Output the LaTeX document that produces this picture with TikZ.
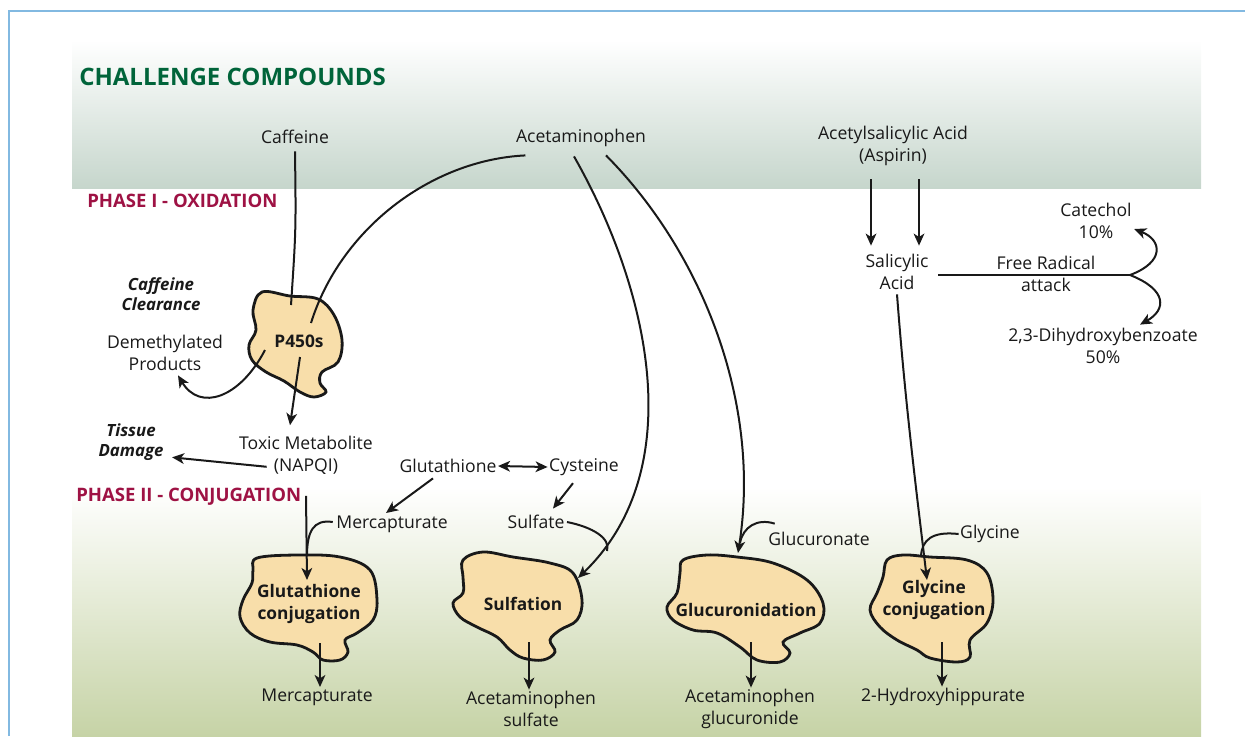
\documentclass[tikz,border=0pt]{standalone}
\usepackage{fontspec}
\setmainfont{Open Sans}
\usetikzlibrary{arrows.meta, calc}
\definecolor{frameblue}{RGB}{130,185,225}
\definecolor{topband}{RGB}{198,214,204}
\definecolor{lowband}{RGB}{198,211,166}
\definecolor{titlegreen}{RGB}{0,100,58}
\definecolor{phasered}{RGB}{158,18,68}
\definecolor{blobfill}{RGB}{248,222,170}
\definecolor{inkblack}{RGB}{25,25,25}

\begin{document}
\begin{tikzpicture}[x=0.75pt, y=-0.75pt,
  lbl/.style={align=center, font=\fontsize{13.2}{16.5}\selectfont, text=inkblack, inner sep=1pt},
  enz/.style={align=center, font=\fontsize{13}{16.5}\selectfont\bfseries, text=inkblack, inner sep=1pt},
  note/.style={align=center, font=\fontsize{12.6}{15.5}\selectfont\bfseries\itshape, text=inkblack, inner sep=1pt},
  phase/.style={anchor=west, font=\fontsize{13.9}{16}\selectfont\bfseries, text=phasered, inner sep=0pt},
  blob/.style={draw=inkblack, line width=2.1pt, fill=blobfill},
  arrow/.style={-{Stealth[length=9pt, width=8pt, inset=2.5pt]}, line width=1.5pt, inkblack},
  dblarrow/.style={{Stealth[length=9pt, width=8pt, inset=2.5pt]}-{Stealth[length=9pt, width=8pt, inset=2.5pt]}, line width=1.5pt, inkblack},
  link/.style={line width=1.5pt, inkblack}
]
\useasboundingbox (0,0) rectangle (1245,736);

% bands and frame
\shade[top color=white, bottom color=topband] (72,40) rectangle (1201,188);
\shade[top color=white, bottom color=lowband] (72,487) rectangle (1201,736);
\draw[frameblue, line width=2.2pt] (9,736) -- (9,11) -- (1245,11);

% enzymes
\draw[blob] plot[smooth cycle, tension=0.6] coordinates {(262,292) (290,296) (318,299) (334,315) (342,340) (338,362) (322,372) (320,383) (326,392) (314,397) (300,392) (284,381) (266,372) (252,360) (249,345) (256,330) (253,310)};
\draw[blob] plot[smooth cycle, tension=0.6] coordinates {(257,558) (297,555) (340,557) (370,570) (377,600) (373,620) (357,633) (345,640) (348,652) (340,660) (323,660) (313,652) (297,645) (270,642) (250,633) (240,617) (243,600) (252,583) (253,570)};
\draw[blob] plot[smooth cycle, tension=0.6] coordinates {(463,560) (483,552) (513,557) (550,563) (573,573) (582,600) (577,620) (560,630) (550,640) (555,652) (543,660) (523,658) (510,650) (497,637) (477,627) (460,617) (453,603) (463,593) (463,577)};
\draw[blob] plot[smooth cycle, tension=0.6] coordinates {(683,560) (707,555) (737,557) (773,563) (807,580) (823,603) (820,623) (800,633) (783,642) (790,653) (780,662) (757,660) (740,647) (717,633) (693,630) (673,620) (667,607) (677,593) (680,573)};
\draw[blob] plot[smooth cycle, tension=0.6] coordinates {(887,560) (903,555) (930,557) (967,560) (987,573) (993,600) (987,623) (970,640) (970,657) (957,662) (930,658) (917,650) (897,640) (880,627) (870,610) (877,593) (883,577)};

\node[enz] (p450) at (299,341) {P450s};
\node[enz] (gsconj) at (309,604) {Glutathione\\conjugation};
\node[enz] (sulf) at (523,604) {Sulfation};
\node[enz] (gluc) at (746,610) {Glucuronidation};
\node[enz] (glyc) at (934,600) {Glycine\\conjugation};

% headings
\node[anchor=west, font=\fontsize{18}{20}\selectfont\bfseries, text=titlegreen, inner sep=0pt] (title) at (79,77) {CHALLENGE COMPOUNDS};
\node[phase] (ph1) at (87,201) {PHASE I - OXIDATION};
\node[phase] (ph2) at (76,497) {PHASE II - CONJUGATION};

% compounds
\node[lbl] (caffeine) at (295,137) {Caffeine};
\node[lbl] (acet) at (581,138) {Acetaminophen};
\node[lbl] (asa) at (893,146) {Acetylsalicylic Acid\\(Aspirin)};
\node[lbl] (salic) at (897,272) {Salicylic\\Acid};
\node[lbl] (radical) at (1046,274) {Free Radical\\attack};
\node[lbl] (catechol) at (1096,221) {Catechol\\10\%};
\node[lbl] (dhb) at (1103,346) {2,3-Dihydroxybenzoate\\50\%};
\node[note] (clearance) at (161,294) {Caffeine\\Clearance};
\node[lbl] (demeth) at (165,353) {Demethylated\\Products};
\node[note] (tissue) at (131,442) {Tissue\\Damage};
\node[lbl] (toxic) at (306,455) {Toxic Metabolite\\(NAPQI)};
\node[lbl] (gsh) at (448,466) {Glutathione};
\node[lbl] (cys) at (584,467) {Cysteine};
\node[lbl] (merc) at (392,524) {Mercapturate};
\node[lbl] (sulfate) at (536,522) {Sulfate};
\node[lbl] (glucuronate) at (819,539) {Glucuronate};
\node[lbl] (glycine) at (990,534) {Glycine};
\node[lbl] (prod1) at (317,697) {Mercapturate};
\node[lbl] (prod2) at (531,709) {Acetaminophen\\sulfate};
\node[lbl] (prod3) at (750,709) {Acetaminophen\\glucuronide};
\node[lbl] (prod4) at (943,697) {2-Hydroxyhippurate};

% free ends inside the enzymes
\coordinate (p450a) at (291,305);
\coordinate (p450b) at (311,323);
\coordinate (p450c) at (265,350);
\coordinate (p450d) at (300,357);
\coordinate (gsin) at (307,580);
\coordinate (gsout) at (320,643);
\coordinate (sulfin) at (578,578);
\coordinate (sulfout) at (529,642);
\coordinate (glucin) at (738,553);
\coordinate (glucout) at (751,642);
\coordinate (glycin) at (927,580);
\coordinate (glycout) at (942,642);
\coordinate (fork) at (1130,275);

% phase I
\draw[link] ($(caffeine.south)+(0,6)$) .. controls (296,230) .. (p450a);
\draw[link] ($(acet.south west)+(11,7)$) .. controls (430,160) and (340,230) .. (p450b);
\draw[arrow] (p450c) .. controls (240,398) and (200,412) .. ($(demeth.south)+(13,3)$);
\draw[arrow] (p450d) -- ($(toxic.north)+(-16,-9)$);
\draw[arrow] ($(toxic.south west)+(29,-9)$) -- ($(tissue.south east)+(7,-5)$);

% phase II
\draw[arrow] ($(toxic.south)+(0,20)$) -- (gsin);
\draw[link] ($(merc.west)+(-2,-2)$) .. controls (313,519) and (307,532) .. (307,556);
\draw[dblarrow] (gsh.east) -- (cys.west);
\draw[arrow] ($(gsh.south)+(-15,4)$) -- ($(merc.north)+(-6,-1)$);
\draw[arrow] ($(cys.south)+(-11,6)$) -- ($(sulfate.north east)+(-13,-5)$);
\draw[arrow] ($(acet.south)+(-7,8)$) .. controls (650,290) and (690,470) .. (sulfin);
\draw[link] ($(sulfate.east)+(1,0)$) .. controls (592,527) and (611,538) .. (607,551);
\draw[arrow] ($(acet.south)+(25,7)$) .. controls (700,250) and (762,400) .. (glucin);
\draw[link] ($(glucuronate.north west)+(8,-7)$) .. controls (757,518) and (743,527) .. (740,543);

% aspirin route
\draw[arrow] ($(asa.south)+(-22,12)$) -- ($(salic.north)+(-26,-7)$);
\draw[arrow] ($(asa.south)+(26,12)$) -- ($(salic.north)+(22,-7)$);
\draw[link] ($(salic.east)+(8,3)$) -- (fork);
\draw[arrow] (fork) .. controls (1165,262) and (1162,240) .. ($(catechol.east)+(1,8)$);
\draw[arrow] (fork) .. controls (1168,290) and (1166,310) .. ($(dhb.north)+(37,-2)$);
\draw[arrow] ($(salic.south)+(0,3)$) .. controls (905,400) and (915,480) .. (glycin);
\draw[link] (glycine.west) .. controls (932,531) and (922,540) .. (921,556);

% products
\draw[arrow] (gsout) -- (gsout |- prod1.north);
\draw[arrow] (sulfout) -- (sulfout |- prod2.north);
\draw[arrow] (glucout) -- (glucout |- prod3.north);
\draw[arrow] (glycout) -- (glycout |- prod4.north);

\end{tikzpicture}
\end{document}
